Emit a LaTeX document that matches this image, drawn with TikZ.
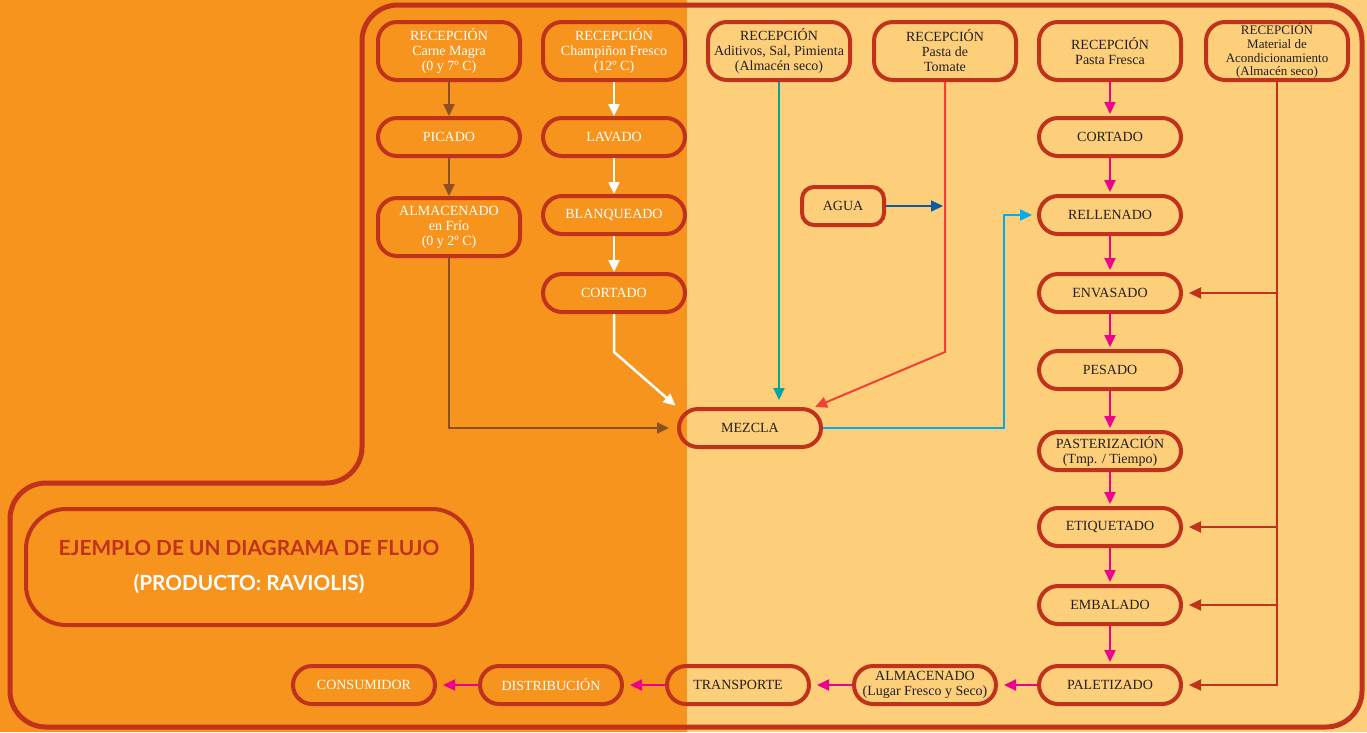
\documentclass[tikz,border=0pt]{standalone}
\usepackage{fontspec}
\setmainfont{Liberation Serif}
\newfontfamily\titlefont{Lato}
\usepackage{tikz}
\usetikzlibrary{arrows.meta}
\definecolor{fondoa}{HTML}{F7941D}
\definecolor{fondob}{HTML}{FDCF7A}
\definecolor{marco}{HTML}{C0321C}
\definecolor{oscuro}{HTML}{231F20}
\definecolor{cafe}{HTML}{8B5220}
\definecolor{verdeazul}{HTML}{00A79D}
\definecolor{rojo}{HTML}{EF4136}
\definecolor{azul}{HTML}{0A5CA8}
\definecolor{celeste}{HTML}{00AEEF}
\definecolor{magenta}{HTML}{EC008C}

\begin{document}
\begin{tikzpicture}[x=1pt,y=-1pt]
\tikzstyle{every node}=[font=\fontsize{14}{15}\selectfont]
\tikzstyle{paso}=[draw=marco,line width=4pt,rounded corners=19pt,minimum width=142pt,minimum height=38pt,inner sep=0pt,align=center,text=oscuro]
\tikzstyle{recep}=[paso,minimum height=58pt]
\tikzstyle{blanco}=[text=white]
\tikzstyle{flecha}=[line width=2pt,-{Triangle[length=12pt,width=11pt]}]

\fill[fondoa](0,0) rectangle (687,732);
\fill[fondob](687,0) rectangle (1367,732);
\useasboundingbox (0,0) rectangle (1367,732);
\draw[marco,line width=5pt,rounded corners=36pt](800,5)--(1362,5)--(1362,727)--(10,727)--(10,483)--(362,483)--(362,5)--cycle;

% recepciones
\node[recep,blanco](rcarne) at (449,51){RECEPCIÓN\\Carne Magra\\(0 y 7º C)};
\node[recep,blanco](rchamp) at (614,51){RECEPCIÓN\\Champiñon Fresco\\(12º C)};
\node[recep](raditivos) at (779,51){RECEPCIÓN\\Aditivos, Sal, Pimienta\\(Almacén seco)};
\node[recep](rtomate) at (945,51){RECEPCIÓN\\Pasta de\\Tomate};
\node[recep](rpasta) at (1110,51){RECEPCIÓN\\Pasta Fresca};
\node[recep,font=\fontsize{13}{13.8}\selectfont](rmaterial) at (1277,51){RECEPCIÓN\\Material de\\Acondicionamiento\\(Almacén seco)};

\node[paso,blanco](picado) at (449,137){PICADO};
\node[recep,blanco](almfrio) at (449,227){ALMACENADO\\en Frío\\(0 y 2º C)};
\node[paso,blanco](lavado) at (614,137){LAVADO};
\node[paso,blanco](blanqueado) at (614,215){BLANQUEADO};
\node[paso,blanco](cortadoa) at (614,293){CORTADO};
\node[paso](mezcla) at (750,428){MEZCLA};
\node[paso,minimum width=82pt,rounded corners=12pt](agua) at (843,206){AGUA};

\node[paso](cortadob) at (1110,137){CORTADO};
\node[paso](rellenado) at (1110,215){RELLENADO};
\node[paso](envasado) at (1110,293){ENVASADO};
\node[paso](pesado) at (1110,370){PESADO};
\node[paso](pasteur) at (1110,451){PASTERIZACIÓN\\(Tmp. / Tiempo)};
\node[paso](etiquetado) at (1110,527){ETIQUETADO};
\node[paso](embalado) at (1110,605){EMBALADO};
\node[paso](paletizado) at (1110,685){PALETIZADO};

\node[paso](almseco) at (925,685){ALMACENADO\\(Lugar Fresco y Seco)};
\node[paso](transporte) at (738,685){TRANSPORTE};
\node[paso,blanco](distribucion) at (551,685){DISTRIBUCIÓN};
\node[paso,blanco](consumidor) at (364,685){CONSUMIDOR};

\node[draw=marco,line width=4pt,rounded corners=40pt,minimum width=446pt,minimum height=116pt,align=center,text=marco,font=\titlefont\bfseries\fontsize{20.8}{24}\selectfont](titulo) at (249,567){EJEMPLO DE UN DIAGRAMA DE FLUJO\\[11pt]{\color{white}(PRODUCTO: RAVIOLIS)}};

\coordinate (quiebre) at (614,352);
\coordinate (quiebre2) at (945,352);
\coordinate (desvio) at (1004,428);
\coordinate (bajada) at (1277,685);

\draw[flecha,cafe](rcarne)--(picado);
\draw[flecha,cafe](picado)--(almfrio);
\draw[flecha,cafe,shorten >=8pt](almfrio.south)|-(mezcla.west);

\draw[flecha,white,line width=2.5pt](rchamp)--(lavado);
\draw[flecha,white,line width=2.5pt](lavado)--(blanqueado);
\draw[flecha,white,line width=2.5pt](blanqueado)--(cortadoa);
\draw[flecha,white,line width=2.5pt,shorten >=2pt](cortadoa.south)--(quiebre)--(mezcla.north west);

\draw[flecha,verdeazul,shorten >=7pt](raditivos.south)--(raditivos.south|-mezcla.north);
\draw[flecha,rojo](rtomate.south)--(quiebre2)--([xshift=-8pt]mezcla.north east);
\draw[flecha,azul,shorten >=2pt](agua.east)--(agua.east-|rtomate.south);
\draw[flecha,celeste,shorten >=5pt](mezcla.east)--(desvio)|-(rellenado.west);

\draw[flecha,magenta,shorten >=2pt](rpasta)--(cortadob);
\draw[flecha,magenta,shorten >=2pt](cortadob)--(rellenado);
\draw[flecha,magenta,shorten >=2pt](rellenado)--(envasado);
\draw[flecha,magenta,shorten >=2pt](envasado)--(pesado);
\draw[flecha,magenta,shorten >=2pt](pesado)--(pasteur);
\draw[flecha,magenta,shorten >=2pt](pasteur)--(etiquetado);
\draw[flecha,magenta,shorten >=2pt](etiquetado)--(embalado);
\draw[flecha,magenta,shorten >=2pt](embalado)--(paletizado);
\draw[flecha,magenta,shorten >=6pt](paletizado)--(almseco);
\draw[flecha,magenta,shorten >=6pt](almseco)--(transporte);
\draw[flecha,magenta,shorten >=6pt](transporte)--(distribucion);
\draw[flecha,magenta,shorten >=6pt](distribucion)--(consumidor);

\draw[flecha,marco,shorten >=6pt](rmaterial.south)--(bajada)--(paletizado.east);
\draw[flecha,marco,shorten >=6pt](rmaterial.south|-envasado)--(envasado.east);
\draw[flecha,marco,shorten >=6pt](rmaterial.south|-etiquetado)--(etiquetado.east);
\draw[flecha,marco,shorten >=6pt](rmaterial.south|-embalado)--(embalado.east);

\end{tikzpicture}
\end{document}
